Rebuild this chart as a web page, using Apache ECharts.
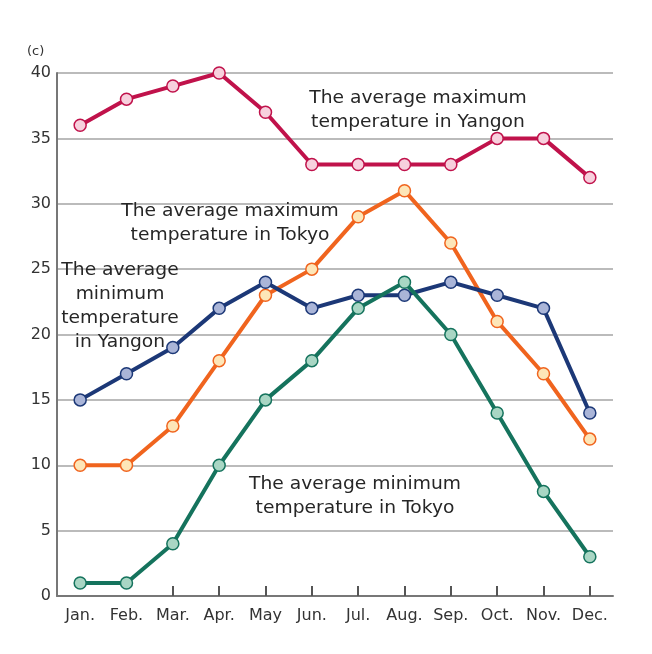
<!DOCTYPE html>
<html>
<head>
<meta charset="utf-8">
<script src="https://cdn.jsdelivr.net/npm/echarts@6/dist/echarts.min.js"></script>
<style>
  html, body { margin: 0; padding: 0; background: #fff; }
  #chart { width: 652px; height: 654px; }
</style>
</head>
<body>
<div id="chart"></div>
<script>
const months = ['Jan.', 'Feb.', 'Mar.', 'Apr.', 'May', 'Jun.', 'Jul.', 'Aug.', 'Sep.', 'Oct.', 'Nov.', 'Dec.']
const yangonMax = [36, 38, 39, 40, 37, 33, 33, 33, 33, 35, 35, 32]
const tokyoMax = [10, 10, 13, 18, 23, 25, 29, 31, 27, 21, 17, 12]
const yangonMin = [15, 17, 19, 22, 24, 22, 23, 23, 24, 23, 22, 14]
const tokyoMin = [1, 1, 4, 10, 15, 18, 22, 24, 20, 14, 8, 3]
const yTicks = [0, 5, 10, 15, 20, 25, 30, 35, 40]

const font = '"DejaVu Sans", Verdana, sans-serif'

const makeLine = (name, data, color, fill) => ({
  name,
  type: 'line',
  data,
  symbol: 'circle',
  symbolSize: 12,
  lineStyle: { color, width: 4 },
  itemStyle: { color: fill, borderColor: color, borderWidth: 1.5 },
  z: 3,
})

// annotation text blocks, x is the centre of the block
const note = (x, y, text) => ({
  type: 'text',
  x,
  y,
  scaleX: 1.1,
  style: {
    text,
    fill: '#262626',
    font: '17px ' + font,
    textAlign: 'center',
    textVerticalAlign: 'top',
    lineHeight: 24,
  },
  z: 10,
})

const chart = echarts.init(document.getElementById('chart'))
chart.setOption({
  animation: false,
  backgroundColor: '#fff',
  grid: { left: 57, right: 39, top: 73, bottom: 58 },
  xAxis: {
    type: 'category',
    data: months,
    boundaryGap: true,
    axisLine: { lineStyle: { color: '#777', width: 2 } },
    axisTick: {
      show: true,
      alignWithLabel: true,
      inside: true,
      length: 10,
      // Jan. and Feb. ticks are hidden under the markers in the original
      interval: (i) => i >= 2,
      lineStyle: { color: '#555', width: 2 },
    },
    axisLabel: { color: '#333', fontSize: 16, fontFamily: font, margin: 12, interval: 0 },
  },
  yAxis: {
    type: 'value',
    min: yTicks[0],
    max: yTicks[yTicks.length - 1],
    interval: 5,
    axisLine: { show: true, lineStyle: { color: '#777', width: 2 } },
    axisTick: { show: false },
    axisLabel: { color: '#333', fontSize: 16, fontFamily: font, margin: 6 },
    splitLine: { lineStyle: { color: '#bbb', width: 2 } },
  },
  series: [
    makeLine('yangonMax', yangonMax, '#c0124b', '#f7d0dd'),
    makeLine('tokyoMax', tokyoMax, '#f0641e', '#fde6b8'),
    makeLine('yangonMin', yangonMin, '#1c3877', '#aab5d8'),
    makeLine('tokyoMin', tokyoMin, '#15735d', '#a9d6c4'),
  ],
  graphic: [
    { type: 'text', x: 27, y: 45, style: { text: '(c)', fill: '#333', font: '13px ' + font } },
    note(418, 87, 'The average maximum\ntemperature in Yangon'),
    note(230, 200, 'The average maximum\ntemperature in Tokyo'),
    note(120, 259, 'The average\nminimum\ntemperature\nin Yangon'),
    note(355, 473, 'The average minimum\ntemperature in Tokyo'),
  ],
})
</script>
</body>
</html>
